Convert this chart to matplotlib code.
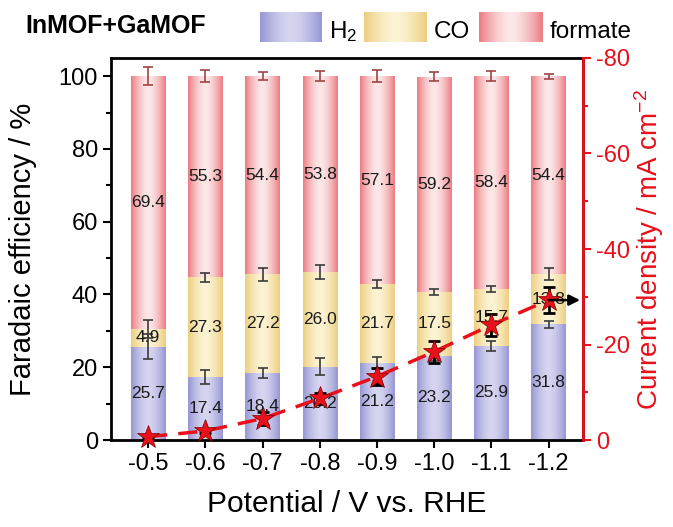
import numpy as np
import matplotlib
matplotlib.use("Agg")
import matplotlib.pyplot as plt
from matplotlib.ticker import MultipleLocator

plt.rcParams['font.family'] = ['Liberation Sans', 'DejaVu Sans']
plt.rcParams['axes.unicode_minus'] = False
plt.rcParams['mathtext.fontset'] = 'custom'
plt.rcParams['mathtext.rm'] = 'Liberation Sans'
plt.rcParams['mathtext.it'] = 'Liberation Sans:italic'
plt.rcParams['mathtext.bf'] = 'Liberation Sans:bold'

# Faradaic efficiencies (%) at each applied potential
potentials = ["-0.5", "-0.6", "-0.7", "-0.8", "-0.9", "-1.0", "-1.1", "-1.2"]
fe_h2 = [25.7, 17.4, 18.4, 20.2, 21.2, 23.2, 25.9, 31.8]
fe_co = [4.9, 27.3, 27.2, 26.0, 21.7, 17.5, 15.7, 13.8]
fe_formate = [69.4, 55.3, 54.4, 53.8, 57.1, 59.2, 58.4, 54.4]
err_h2 = [3.5, 1.9, 1.4, 2.3, 1.6, 1.5, 1.4, 0.9]
err_co = [2.5, 1.2, 1.8, 2.0, 1.2, 0.9, 0.8, 1.7]
err_formate = [2.5, 1.6, 1.05, 1.45, 1.7, 1.15, 1.3, 0.7]

# total current density (mA cm-2)
j_total = [-0.7, -1.9, -4.5, -8.7, -13.3, -18.5, -24.1, -29.3]
j_err = [0.3, 0.5, 1.4, 1.2, 1.7, 2.3, 2.3, 2.7]

# edge / centre colours of the shaded bars
shades = {
    'H2': ((150, 150, 212), (214, 214, 240)),
    'CO': ((236, 206, 128), (252, 244, 212)),
    'formate': ((236, 124, 130), (252, 232, 232)),
}


def gradient(edge, centre, n=64):
    t = np.abs(np.linspace(-1, 1, n)) ** 1.6
    e = np.array(edge) / 255.0
    c = np.array(centre) / 255.0
    cols = c[None, :] * (1 - t[:, None]) + e[None, :] * t[:, None]
    return cols[None, :, :]


def shade_bars(ax, bars, key):
    img_data = gradient(*shades[key])
    for b in bars:
        x0, y0 = b.get_x(), b.get_y()
        w, h = b.get_width(), b.get_height()
        im = ax.imshow(img_data, extent=(x0, x0 + w, y0, y0 + h),
                       aspect='auto', interpolation='bicubic', zorder=2)
        im.set_clip_path(b)


fig = plt.figure(figsize=(6.73, 5.27), dpi=100)
ax = fig.add_axes([0.165, 0.165, 0.701, 0.725])

x = np.arange(len(potentials))
h2 = np.array(fe_h2)
co = np.array(fe_co)
fm = np.array(fe_formate)
width = 0.6

b1 = ax.bar(x, h2, width, color='#b4b4e0', zorder=1)
b2 = ax.bar(x, co, width, bottom=h2, color='#f2dc9a', zorder=1)
b3 = ax.bar(x, fm, width, bottom=h2 + co, color='#f0a8ab', zorder=1)
shade_bars(ax, b1, 'H2')
shade_bars(ax, b2, 'CO')
shade_bars(ax, b3, 'formate')

ekw = dict(fmt='none', capsize=3.5, elinewidth=1.2, capthick=1.2, zorder=3)
ax.errorbar(x, h2, yerr=err_h2, ecolor='#3a3a3a', **ekw)
ax.errorbar(x, h2 + co, yerr=err_co, ecolor='#3a3a3a', **ekw)
ax.errorbar(x, h2 + co + fm, yerr=err_formate, ecolor='#a04444', **ekw)

for i in range(len(x)):
    ax.text(x[i], h2[i] / 2, f"{fe_h2[i]:.1f}", ha='center', va='center',
            fontsize=12.5, color='#1a1a1a', zorder=4)
    ax.text(x[i], h2[i] + co[i] / 2, f"{fe_co[i]:.1f}", ha='center', va='center',
            fontsize=12.5, color='#1a1a1a', zorder=4)
    ax.text(x[i], h2[i] + co[i] + fm[i] / 2, f"{fe_formate[i]:.1f}", ha='center',
            va='center', fontsize=12.5, color='#1a1a1a', zorder=4)

ax.set_xlim(-0.65, 7.6)
ax.set_ylim(0, 105)
ax.set_xticks(x)
ax.set_xticklabels(potentials)
ax.yaxis.set_major_locator(MultipleLocator(20))
ax.yaxis.set_minor_locator(MultipleLocator(10))
ax.tick_params(axis='both', which='major', labelsize=17, length=6, width=1.5,
               direction='out')
ax.tick_params(axis='y', which='minor', length=3.5, width=1.5, direction='out')
ax.set_xlabel("Potential / V vs. RHE", fontsize=21.5)
ax.set_ylabel("Faradaic efficiency / %", fontsize=21)
ax.xaxis.set_label_coords(0.5, -0.13)
ax.yaxis.set_label_coords(-0.158, 0.5)
for s in ax.spines.values():
    s.set_linewidth(2)

# current density on the right axis
red = '#e8101a'
ax2 = ax.twinx()
ax2.set_ylim(0, -80)
ax2.plot(x, j_total, ls=(0, (5.5, 3.2)), color=red, lw=2.5, zorder=2)
ax2.errorbar(x, j_total, yerr=j_err, fmt='none', ecolor='black', elinewidth=2,
             capsize=4, capthick=2, zorder=3)
ax2.plot(x, j_total, ls='none', marker='*', ms=17, mfc=red, mec='#7a0000',
         mew=0.5, zorder=4, clip_on=False)
ax2.annotate("", xy=(7.6, j_total[-1]), xytext=(6.95, j_total[-1]),
             arrowprops=dict(arrowstyle='-|>', color='black', lw=1.8,
                             mutation_scale=16), zorder=5)
ax2.yaxis.set_major_locator(MultipleLocator(20))
ax2.yaxis.set_minor_locator(MultipleLocator(10))
ax2.tick_params(axis='y', which='major', labelsize=17, length=6, width=1.5,
                colors=red)
ax2.tick_params(axis='y', which='minor', length=3.5, width=1.5, colors=red)
ax2.set_ylabel("Current density / mA cm$^{-2}$", fontsize=20, color=red)
ax2.yaxis.set_label_coords(1.105, 0.5)
for k, s in ax2.spines.items():
    s.set_visible(k == 'right')
ax2.spines['right'].set_color(red)
ax2.spines['right'].set_linewidth(2)

# header: sample name and shaded legend swatches
fig.text(0.037, 0.951, "InMOF+GaMOF", fontsize=18, fontweight='bold',
         va='center', ha='left')
lax = fig.add_axes([0, 0, 1, 1], zorder=-1)
swatches = [('H2', 260, 322, "H$_2$"), ('CO', 364, 427, "CO"),
            ('formate', 479, 543, "formate")]
for key, xa, xb, lab in swatches:
    lax.imshow(gradient(*shades[key]), extent=(xa, xb, 42, 12),
               aspect='auto', interpolation='bicubic')
    lax.text(xb + 7, 38, lab, fontsize=17.5, va='baseline', ha='left')
lax.set_xlim(0, 673)
lax.set_ylim(527, 0)
lax.axis('off')

fig.savefig("out.png", dpi=100)
